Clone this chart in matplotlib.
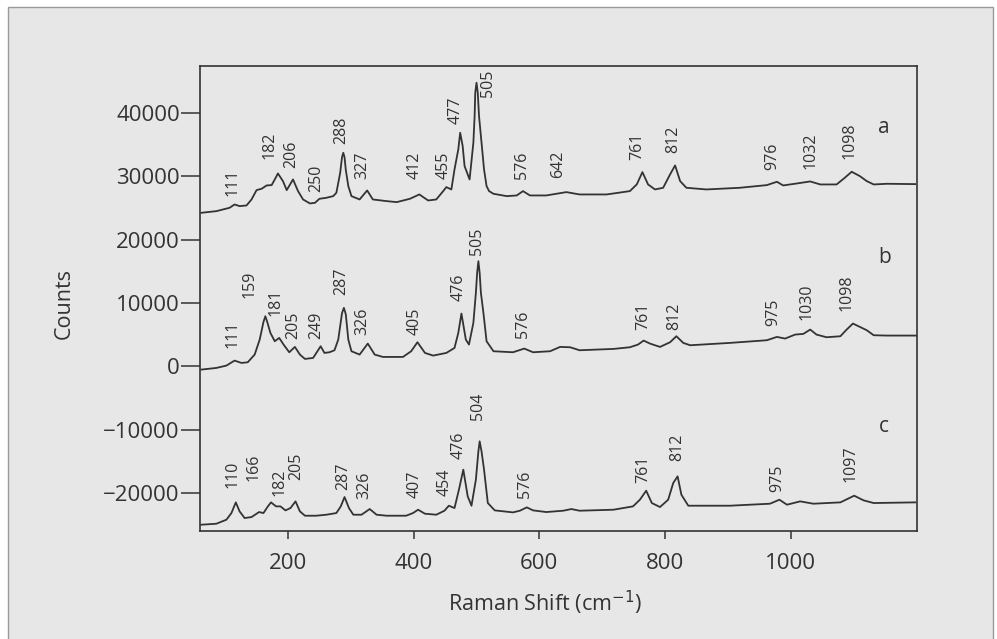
import matplotlib.pyplot as plt
from matplotlib.patches import Rectangle

plt.rcParams['font.family'] = ['Open Sans', 'DejaVu Sans']
plt.rcParams['axes.unicode_minus'] = True

# ======================
# spectrum a
# ======================
a_x = [62, 86, 107, 115, 123, 134, 142, 150, 158, 166, 174, 179, 184, 192, 198,
       208, 216, 224, 235, 243, 250, 261, 272, 277, 283, 286, 288, 290, 292, 296,
       301, 314, 326, 335, 357, 373, 394, 409, 423, 436, 447, 452, 460, 465, 471,
       474, 478, 481, 483, 489, 495, 497, 498, 500, 502, 504, 508, 512, 516, 520,
       527, 548, 564, 574, 585, 611, 643, 664, 707, 744, 755, 764, 773, 784, 797,
       808, 816, 824, 834, 866, 919, 962, 978, 988, 1010, 1031, 1047, 1073, 1086,
       1097, 1110, 1121, 1132, 1153, 1198]
a_y = [24228, 24490, 25018, 25545, 25282, 25387, 26335, 27810, 28020, 28547,
       28600, 29494, 30442, 29231, 27810, 29494, 27652, 26335, 25703, 25808,
       26440, 26598, 26861, 27388, 30500, 33000, 33707, 33000, 31000, 28441,
       26861, 26335, 27757, 26335, 26072, 25914, 26440, 27125, 26177, 26335,
       27652, 28284, 27916, 31074, 34234, 36867, 34761, 31600, 31074, 29494,
       35287, 39500, 43186, 44766, 43186, 39500, 35287, 31074, 28441, 27652,
       27230, 26861, 26967, 27652, 26967, 26967, 27494, 27125, 27125, 27652,
       28705, 30653, 28705, 27916, 28179, 30285, 31706, 29231, 28179, 27916,
       28179, 28600, 29126, 28547, 28863, 29178, 28705, 28705, 29758, 30706,
       30021, 29231, 28705, 28810, 28758]

# ======================
# spectrum b
# ======================
b_x = [62, 86, 102, 115, 126, 136, 147, 155, 161, 164, 167, 172, 179, 186, 193,
       202, 211, 219, 227, 240, 252, 258, 266, 274, 280, 286, 289, 292, 296, 301,
       314, 327, 338, 351, 383, 396, 406, 418, 431, 452, 465, 471, 476, 483, 488,
       495, 499, 501, 503, 505, 507, 511, 516, 527, 558, 576, 590, 617, 633, 649,
       664, 718, 744, 757, 766, 776, 792, 808, 818, 829, 840, 903, 962, 978, 991,
       1007, 1020, 1031, 1041, 1057, 1079, 1089, 1099, 1110, 1121, 1132, 1153, 1200]
b_y = [-522, -259, 110, 900, 532, 637, 1848, 4217, 7000, 7904, 7000, 5270, 3954,
       4480, 3428, 2216, 3059, 1848, 1163, 1321, 3164, 2111, 2216, 2532, 4217,
       8400, 9220, 8200, 4217, 2375, 1848, 3586, 1848, 1479, 1479, 2375, 3797,
       2111, 1690, 2111, 2901, 5270, 8325, 4217, 3428, 6850, 11590, 14749, 16593,
       14749, 11590, 8430, 3954, 2375, 2216, 2795, 2216, 2375, 3059, 3006, 2532,
       2743, 3006, 3428, 4059, 3586, 3059, 3797, 4744, 3691, 3322, 3691, 4112,
       4638, 4375, 5007, 5112, 5797, 5007, 4586, 4744, 5797, 6745, 6219, 5692,
       4902, 4849, 4849]

# ======================
# spectrum c
# ======================
c_x = [62, 86, 102, 110, 117, 123, 131, 142, 154, 161, 168, 173, 181, 188, 196,
       204, 212, 219, 227, 245, 261, 277, 284, 290, 297, 304, 317, 330, 341, 357,
       388, 399, 407, 418, 436, 449, 456, 465, 472, 479, 486, 492, 499, 503, 505,
       508, 512, 518, 529, 558, 569, 580, 590, 611, 638, 651, 664, 718, 749, 760,
       770, 779, 792, 805, 813, 820, 826, 837, 903, 967, 982, 994, 1015, 1036,
       1079, 1101, 1116, 1132, 1198]
c_y = [-25008, -24850, -24218, -23165, -21480, -22902, -23955, -23797, -23007,
       -23165, -22112, -21480, -22112, -22112, -22744, -22375, -21322, -22902,
       -23586, -23586, -23428, -23165, -22112, -20637, -22375, -23428, -23428,
       -22533, -23428, -23586, -23586, -23165, -22638, -23270, -23428, -22797,
       -22007, -22375, -19479, -16319, -20532, -22007, -17899, -13423, -11843,
       -13423, -16319, -21585, -22744, -23060, -22797, -22270, -22744, -23007,
       -22797, -22533, -22797, -22638, -22112, -21059, -19637, -21585, -22217,
       -21059, -18426, -17372, -20269, -22007, -22007, -21691, -21059, -21848,
       -21322, -21691, -21480, -20427, -21164, -21585, -21480]

# ======================
# peak labels: text, x and y of the label foot
# ======================
a_peaks = [111, 182, 206, 250, 288, 327, 412, 455, 477, 505, 576, 642, 761, 812, 976, 1032, 1098]
a_lab_x = [111, 170, 205, 245, 285, 319, 402, 447, 467, 518, 572, 630, 755, 813, 971, 1031, 1094]
a_lab_y = [26861, 32760, 31337, 27494, 35023, 29600, 29600, 29600, 38183, 42554,
           29600, 29757, 32496, 33707, 30916, 31074, 32654]

b_peaks = [111, 159, 181, 205, 249, 287, 326, 405, 476, 505, 576, 761, 812, 975, 1030, 1098]
b_lab_x = [111, 139, 181, 208, 245, 284, 319, 402, 472, 500, 574, 765, 815, 972, 1025, 1089]
b_lab_y = [2901, 10800, 7904, 4322, 4322, 11327, 5007, 5007, 10273, 17646, 4480,
           5797, 5797, 6429, 7377, 8693]

c_peaks = [110, 166, 182, 205, 287, 326, 407, 454, 476, 504, 576, 761, 812, 975, 1097]
c_lab_x = [111, 145, 187, 213, 288, 322, 402, 450, 472, 503, 577, 765, 820, 978, 1095]
c_lab_y = [-19215, -18162, -20427, -17899, -19479, -20953, -20795, -20532, -14634,
           -8420, -20795, -18426, -15003, -19900, -18320]

curve_names = ['a', 'b', 'c']
name_x = [1148, 1150, 1148]
name_y = [37657, 17119, -9473]

ink = '#333333'

fig = plt.figure(figsize=(9.97, 6.39), dpi=100, facecolor='white')
# grey paper panel behind the chart
fig.patches.append(Rectangle((8 / 997, -0.02), 985 / 997, 1.02 - 7 / 639,
                             transform=fig.transFigure, facecolor='#e7e7e7',
                             edgecolor='#9a9a9a', linewidth=1.0, zorder=-10))

ax = fig.add_axes([0.2006, 0.169, 0.7192, 0.7277])
ax.set_facecolor('none')
ax.set_zorder(5)

for xs, ys in [(a_x, a_y), (b_x, b_y), (c_x, c_y)]:
    ax.plot(xs, ys, color=ink, linewidth=1.3, solid_joinstyle='round')

for peaks, lx, ly in [(a_peaks, a_lab_x, a_lab_y), (b_peaks, b_lab_x, b_lab_y),
                      (c_peaks, c_lab_x, c_lab_y)]:
    for p, x, y in zip(peaks, lx, ly):
        ax.text(x, y, str(p), rotation=90, ha='center', va='bottom',
                fontsize=11.5, color=ink)

for n, x, y in zip(curve_names, name_x, name_y):
    ax.text(x, y, n, ha='center', va='center', fontsize=15, color=ink)

ax.set_xlim(60, 1201)
ax.set_ylim(-26000, 47400)
ax.set_xticks([200, 400, 600, 800, 1000])
ax.set_yticks([-20000, -10000, 0, 10000, 20000, 30000, 40000])
ax.tick_params(axis='both', direction='out', width=1.1, color=ink,
               labelcolor=ink, labelsize=16)
ax.tick_params(axis='y', length=13.5, pad=1)
ax.tick_params(axis='x', length=5.5, pad=10)
for s in ax.spines.values():
    s.set_color(ink)
    s.set_linewidth(1.2)

ax.set_xlabel('Raman Shift (cm$^{-1}$)', fontsize=15.5, color=ink)
ax.set_ylabel('Counts', fontsize=15.5, color=ink)
ax.xaxis.set_label_coords(0.481, -0.125)
ax.yaxis.set_label_coords(-0.175, 0.49)

plt.savefig('out.png', dpi=100, facecolor=fig.get_facecolor())
